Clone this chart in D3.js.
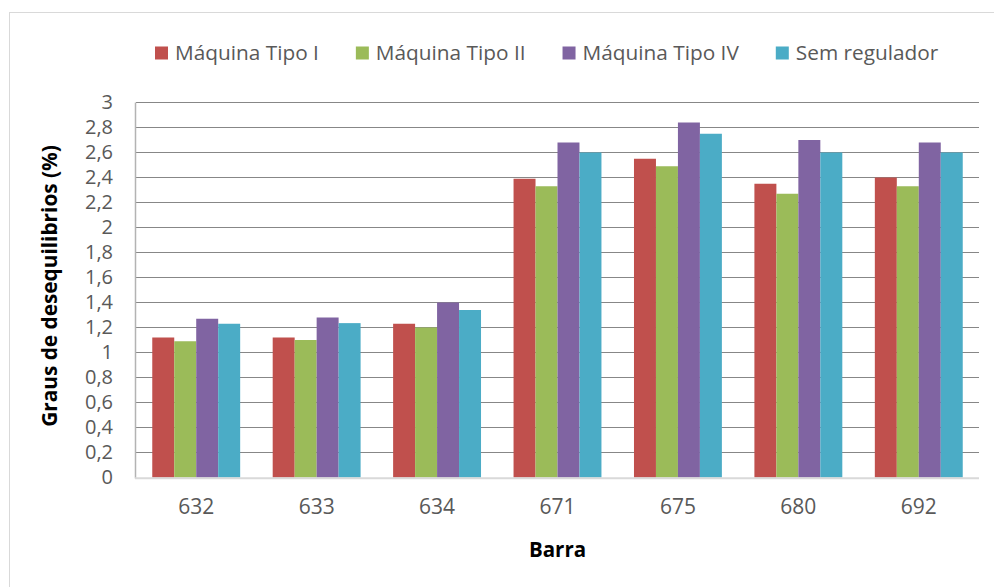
<!DOCTYPE html>
<html>
<head>
<meta charset="utf-8">
<script src="https://cdn.jsdelivr.net/npm/d3@7/dist/d3.min.js"></script>
<style>
  html, body { margin: 0; padding: 0; background: #fff; }
  svg { display: block; font-family: "Open Sans", sans-serif; }
</style>
</head>
<body>
<svg id="chart" width="994" height="587"></svg>
<script>
// Bus identifiers along the x axis
const categories = ["632", "633", "634", "671", "675", "680", "692"];
// Series names shown in the legend
const seriesNames = ["Máquina Tipo I", "Máquina Tipo II", "Máquina Tipo IV", "Sem regulador"];
// Unbalance level (%) per bus for each case
const tipoI   = [1.12, 1.12, 1.23, 2.39, 2.55, 2.35, 2.40];
const tipoII  = [1.09, 1.10, 1.20, 2.33, 2.49, 2.27, 2.33];
const tipoIV  = [1.27, 1.28, 1.40, 2.68, 2.84, 2.70, 2.68];
const semReg  = [1.23, 1.235, 1.34, 2.60, 2.75, 2.60, 2.60];
// Y-axis ticks and labels (comma decimal separator)
const yTicks = [0, 0.2, 0.4, 0.6, 0.8, 1, 1.2, 1.4, 1.6, 1.8, 2, 2.2, 2.4, 2.6, 2.8, 3];
const yTickLabels = ["0", "0,2", "0,4", "0,6", "0,8", "1", "1,2", "1,4", "1,6", "1,8", "2", "2,2", "2,4", "2,6", "2,8", "3"];

const seriesValues = [tipoI, tipoII, tipoIV, semReg];
const colors = ["#C0504D", "#9BBB59", "#8064A2", "#4BACC6"];

const svg = d3.select("#chart");
const plot = { left: 136, right: 979, top: 102.5, bottom: 477.5 };

// Outer chart frame
svg.append("rect")
  .attr("x", 9.5).attr("y", 12.5)
  .attr("width", 1100).attr("height", 700)
  .attr("fill", "#fff").attr("stroke", "#d9d9d9").attr("stroke-width", 1);

const x = d3.scaleBand().domain(categories).range([plot.left, plot.right]).padding(0);
// Four bars per bus, with a gap on each side of the cluster
const inner = d3.scaleBand().domain(d3.range(seriesNames.length))
  .range([0, x.bandwidth()]).paddingInner(0).paddingOuter(0.74);
const y = d3.scaleLinear().domain([0, 3]).range([plot.bottom, plot.top]);

// Horizontal gridlines
svg.append("g")
  .selectAll("line").data(yTicks.filter(t => t > 0)).join("line")
  .attr("x1", plot.left).attr("x2", plot.right)
  .attr("y1", d => y(d)).attr("y2", d => y(d))
  .attr("stroke", "#878787").attr("stroke-width", 1.2);

// Bars
const groups = svg.append("g").selectAll("g").data(categories).join("g")
  .attr("transform", d => `translate(${x(d)},0)`);
groups.selectAll("rect")
  .data((d, i) => seriesValues.map((s, k) => ({ k, v: s[i] })))
  .join("rect")
  .attr("x", d => inner(d.k))
  .attr("width", inner.bandwidth())
  .attr("y", d => y(d.v))
  .attr("height", d => y(0) - y(d.v))
  .attr("fill", d => colors[d.k]);

// Axis lines
svg.append("line")
  .attr("x1", plot.left - 0.5).attr("x2", plot.left - 0.5)
  .attr("y1", plot.top).attr("y2", plot.bottom + 1)
  .attr("stroke", "#b3b3b3").attr("stroke-width", 1.5);
svg.append("line")
  .attr("x1", plot.left - 1).attr("x2", plot.right)
  .attr("y1", plot.bottom + 0.7).attr("y2", plot.bottom + 0.7)
  .attr("stroke", "#d9d9d9").attr("stroke-width", 2);

// Y axis labels
const yAxis = d3.axisLeft(y).tickValues(yTicks)
  .tickFormat((d, i) => yTickLabels[i]).tickSize(0).tickPadding(23);
const gy = svg.append("g").attr("transform", `translate(${plot.left},0)`).call(yAxis);
gy.select(".domain").remove();
gy.selectAll("text").attr("fill", "#595959").style("font-size", "20px")
  .style("font-family", "'Open Sans', sans-serif");

// X axis labels
const xAxis = d3.axisBottom(x).tickSize(0).tickPadding(22);
const gx = svg.append("g").attr("transform", `translate(0,${plot.bottom})`).call(xAxis);
gx.select(".domain").remove();
gx.selectAll("text").attr("fill", "#595959").style("font-size", "21px")
  .style("font-family", "'Open Sans', sans-serif");

// Axis titles
svg.append("text")
  .attr("x", (plot.left + plot.right) / 2).attr("y", 557)
  .attr("text-anchor", "middle").attr("font-weight", "bold")
  .attr("font-size", 20.5).attr("fill", "#000").text("Barra");
svg.append("text")
  .attr("transform", `translate(57,${(plot.top + plot.bottom) / 2 - 4}) rotate(-90)`)
  .attr("text-anchor", "middle").attr("font-weight", "bold")
  .attr("font-size", 20.8).attr("fill", "#000").text("Graus de desequilibrios (%)");

// Legend
const legend = svg.append("g");
let lx = 155;
seriesNames.forEach((name, k) => {
  const item = legend.append("g").attr("transform", `translate(${lx},0)`);
  item.append("rect").attr("x", 0).attr("y", 46.5).attr("width", 13).attr("height", 13)
    .attr("fill", colors[k]);
  const t = item.append("text").attr("x", 20).attr("y", 60)
    .attr("font-size", 20.8).attr("fill", "#595959").text(name);
  lx += 20 + t.node().getComputedTextLength() + 37;
});
</script>
</body>
</html>
